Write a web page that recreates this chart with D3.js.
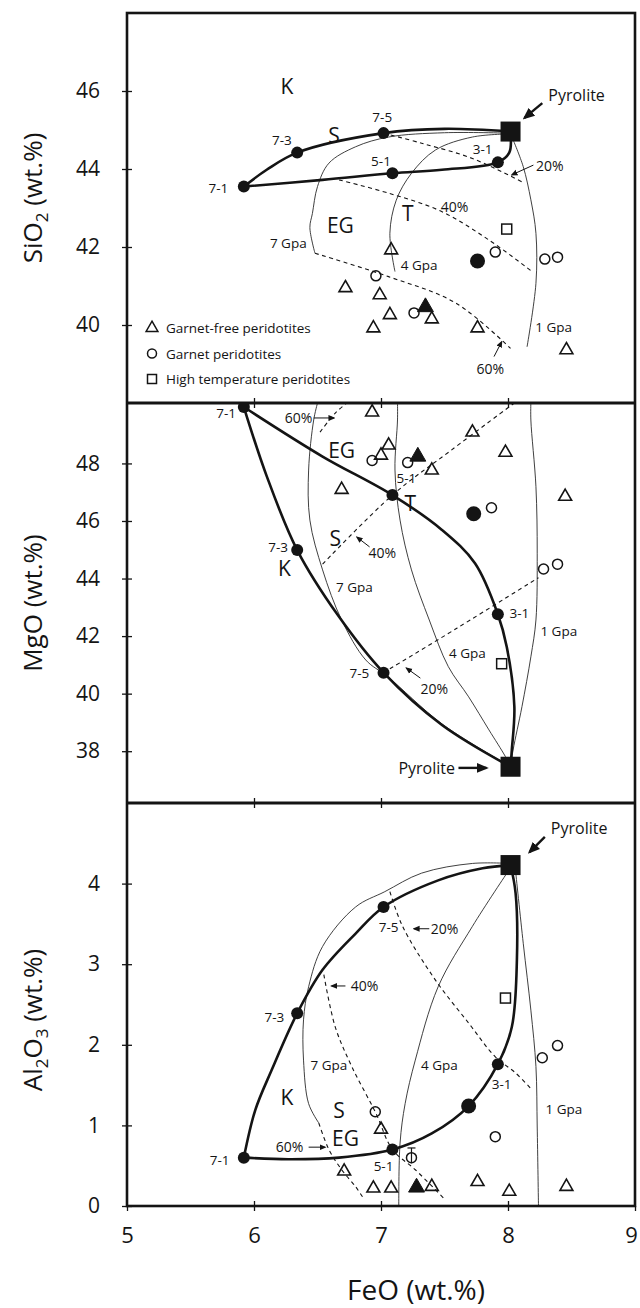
<!DOCTYPE html>
<html>
<head>
<meta charset="utf-8">
<title>FeO versus SiO2, MgO and Al2O3 of peridotites and melting residues</title>
<script src="https://cdn.jsdelivr.net/npm/d3@7"></script>
<style>
  html, body { margin: 0; padding: 0; background: #fff; }
  svg { display: block; }
  text { font-family: "Open Sans", "Noto Sans", "DejaVu Sans", sans-serif; fill: #141414; }
</style>
</head>
<body>
<svg id="chart" width="640" height="1308"></svg>
<script>
// ---------------- data (all values in wt.%) ----------------
const feoDomain = [5, 9];
const feoTicks = [5, 6, 7, 8, 9];

const sio2Domain = [38, 48];
const sio2Ticks = [40, 42, 44, 46];
const mgoDomain = [36.2, 50.1];
const mgoTicks = [38, 40, 42, 44, 46, 48];
const al2o3Domain = [0, 5];
const al2o3Ticks = [0, 1, 2, 3, 4];

// Pyrolite source: FeO, SiO2, MgO, Al2O3
const pyrolite = [8.02, 44.96, 37.46, 4.23];

// Residues of polybaric melting (start-end pressure in GPa)
const residueLabels = ["7-1", "7-3", "7-5", "5-1", "3-1"];
const residueFeO   = [5.92, 6.34, 7.02, 7.09, 7.92];
const residueSiO2  = [43.55, 44.42, 44.92, 43.89, 44.17];
const residueMgO   = [49.96, 44.99, 40.73, 46.90, 42.76];
const residueAl2O3 = [0.60, 2.39, 3.71, 0.70, 1.76];

// ---- SiO2 panel ----
const sio2GarnetFree = [[7.08,41.92],[6.72,40.95],[6.99,40.77],[7.07,40.26],[7.40,40.15],[6.94,39.92],[7.76,39.92],[8.46,39.36]];
const sio2GarnetFreeAvg = [[7.35,40.46]];
const sio2Garnet = [[7.90,41.87],[8.29,41.69],[8.39,41.74],[6.96,41.26],[7.26,40.31]];
const sio2HighT = [[7.99,42.46]];
const sio2GarnetAvg = [[7.76,41.64]];
const sio2Path7 = [[5.92,43.55],[6.10,43.98],[6.34,44.42],[7.02,44.92],[7.50,45.03],[8.02,44.96]];
const sio2PathTo1 = [[5.92,43.55],[6.54,43.72],[7.09,43.89],[7.48,43.98],[7.92,44.17],[8.01,44.42],[8.02,44.90]];
const sio2Isobar7 = [[8.00,44.92],[7.50,44.93],[7.06,44.82],[6.80,44.57],[6.59,44.15],[6.50,43.55],[6.46,42.86],[6.44,42.50],[6.48,41.84]];
const sio2Isobar4 = [[8.00,44.90],[7.72,44.82],[7.43,44.49],[7.24,43.89],[7.12,43.20],[7.07,42.35],[7.11,41.37]];
const sio2Isobar1 = [[8.04,44.75],[8.12,44.06],[8.18,43.21],[8.22,42.35],[8.22,41.07],[8.15,39.44]];
const sio2Melt20 = [[7.02,44.92],[7.32,44.66],[7.72,44.27],[8.11,43.67]];
const sio2Melt40 = [[6.67,43.72],[7.06,43.38],[7.47,42.92],[7.85,42.18],[8.19,41.37]];
const sio2Melt60 = [[6.48,41.84],[7.06,41.24],[7.59,40.56],[8.02,39.40]];
const sio2Labels = [
  ["Pyrolite", 8.54, 45.90, "pyro"], ["7-5", 7.01, 45.33, "step"], ["7-3", 6.22, 44.74, "step"],
  ["7-1", 5.72, 43.52, "step"], ["5-1", 7.00, 44.21, "step"], ["3-1", 7.80, 44.51, "step"],
  ["S", 6.63, 44.87, "region"], ["K", 6.26, 46.13, "region"], ["T", 7.21, 42.87, "region"],
  ["EG", 6.68, 42.56, "region"], ["7 Gpa", 6.27, 42.09, "gpa"], ["4 Gpa", 7.30, 41.54, "gpa"],
  ["1 Gpa", 8.36, 39.96, "gpa"], ["20%", 8.33, 44.10, "pct"], ["40%", 7.58, 43.03, "pct"],
  ["60%", 7.86, 38.89, "pct"]
];
const sio2Arrows = [[8.27,45.69,8.13,45.31,"big"],[8.20,44.10,8.03,43.85,"small"],[7.89,39.19,7.95,39.57,"small"]];

// ---- MgO panel ----
const mgoGarnetFree = [[7.72,49.08],[7.06,48.63],[7.00,48.28],[7.40,47.76],[7.98,48.38],[6.69,47.09],[8.45,46.85],[6.93,49.78]];
const mgoGarnetFreeAvg = [[7.29,48.24]];
const mgoGarnet = [[6.93,48.10],[7.21,48.03],[7.87,46.46],[8.28,44.33],[8.39,44.50]];
const mgoHighT = [[7.95,41.04]];
const mgoGarnetAvg = [[7.73,46.25]];
const mgoPath7 = [[5.92,49.96],[6.10,47.56],[6.34,44.99],[6.66,42.73],[7.02,40.73],[7.48,38.91],[8.02,37.46]];
const mgoPathTo1 = [[5.92,49.96],[6.54,48.24],[7.09,46.90],[7.48,45.69],[7.74,44.53],[7.92,42.76],[7.99,41.63],[8.05,39.55],[8.03,38.04],[8.02,37.46]];
const mgoIsobar7 = [[6.50,50.10],[6.47,49.51],[6.43,47.77],[6.44,46.03],[6.54,44.30],[6.69,42.56],[6.88,41.17],[7.05,40.60],[7.48,38.95],[7.96,37.62]];
const mgoIsobar4 = [[7.13,50.10],[7.13,49.51],[7.11,47.77],[7.15,46.03],[7.24,44.30],[7.38,42.56],[7.53,40.94],[7.69,39.89],[7.85,38.74],[7.98,37.81],[8.02,37.46]];
const mgoIsobar1 = [[8.18,50.10],[8.18,49.51],[8.22,47.19],[8.23,44.88],[8.22,42.56],[8.18,41.28],[8.11,39.55],[8.04,38.04],[8.02,37.46]];
const mgoMelt20 = [[7.02,40.73],[7.60,42.28],[8.24,44.03]];
const mgoMelt40 = [[6.54,44.50],[7.09,46.90],[7.55,48.45],[8.05,50.10]];
const mgoMelt60 = [[6.52,49.09],[6.64,49.75],[6.73,50.10]];
const mgoLabels = [
  ["7-1", 5.78, 49.75, "step"], ["60%", 6.35, 49.61, "pct"], ["EG", 6.69, 48.47, "region"],
  ["T", 7.23, 46.62, "region"], ["S", 6.64, 45.41, "region"], ["K", 6.24, 44.35, "region"],
  ["5-1", 7.20, 47.48, "step"], ["7-3", 6.19, 45.10, "step"], ["3-1", 8.09, 42.80, "step"],
  ["7-5", 6.83, 40.72, "step"], ["40%", 7.01, 44.89, "pct"], ["7 Gpa", 6.79, 43.71, "gpa"],
  ["4 Gpa", 7.68, 41.41, "gpa"], ["1 Gpa", 8.40, 42.18, "gpa"], ["20%", 7.42, 40.19, "pct"],
  ["Pyrolite", 7.36, 37.42, "pyro"]
];
const mgoArrows = [[6.47,49.58,6.63,49.58,"small"],[6.91,45.10,6.81,45.44,"small"],[7.31,40.54,7.20,40.89,"small"],[7.61,37.42,7.83,37.42,"big"]];

// ---- Al2O3 panel ----
const alGarnetFree = [[7.00,0.95],[6.71,0.43],[6.94,0.22],[7.08,0.22],[7.40,0.24],[7.76,0.30],[8.01,0.18],[8.46,0.24]];
const alGarnetFreeAvg = [[7.28,0.23]];
const alGarnet = [[6.955,1.17],[7.24,0.60],[7.90,0.86],[8.27,1.84],[8.39,1.99]];
const alGarnetRange = [[7.24,0.53,0.72]];
const alHighT = [[7.98,2.58]];
const alGarnetAvg = [[7.69,1.24]];
const alPath7 = [[5.92,0.60],[6.01,1.19],[6.14,1.69],[6.34,2.39],[6.54,2.93],[6.80,3.38],[7.02,3.71],[7.45,4.04],[7.80,4.19],[8.02,4.23]];
const alPathTo1 = [[5.92,0.60],[6.27,0.58],[6.67,0.60],[7.09,0.70],[7.40,0.90],[7.69,1.24],[7.92,1.76],[8.03,2.22],[8.07,3.05],[8.06,3.88],[8.02,4.23]];
const alIsobar7 = [[8.02,4.25],[7.72,4.25],[7.32,4.13],[7.03,3.90],[6.80,3.71],[6.54,3.22],[6.43,2.72],[6.39,2.31],[6.39,1.81],[6.43,1.27],[6.51,1.03]];
const alIsobar4 = [[8.00,4.15],[7.72,3.47],[7.45,2.72],[7.27,1.81],[7.19,1.27],[7.15,0.78],[7.14,0.00]];
const alIsobar1 = [[8.06,4.15],[8.12,3.26],[8.18,2.43],[8.22,1.73],[8.23,0.98],[8.24,0.00]];
const alMelt20 = [[7.07,3.90],[7.17,3.47],[7.43,2.80],[7.69,2.27],[7.90,1.85],[8.06,1.65],[8.19,1.44]];
const alMelt40 = [[6.55,2.87],[6.64,2.22],[6.77,1.73],[6.96,1.15],[7.09,0.70],[7.27,0.45],[7.51,0.07]];
const alMelt60 = [[6.51,1.03],[6.59,0.70],[6.69,0.45],[6.80,0.24],[6.86,0.10]];
const alLabels = [
  ["Pyrolite", 8.56, 4.69, "pyro"], ["7-5", 7.06, 3.46, "step"], ["20%", 7.50, 3.44, "pct"],
  ["40%", 6.87, 2.73, "pct"], ["7-3", 6.16, 2.34, "step"], ["7 Gpa", 6.59, 1.75, "gpa"],
  ["4 Gpa", 7.46, 1.75, "gpa"], ["3-1", 7.95, 1.51, "step"], ["1 Gpa", 8.44, 1.20, "gpa"],
  ["K", 6.26, 1.35, "region"], ["S", 6.67, 1.19, "region"], ["EG", 6.72, 0.84, "region"],
  ["60%", 6.28, 0.74, "pct"], ["7-1", 5.73, 0.57, "step"], ["5-1", 7.02, 0.50, "step"]
];
const alArrows = [[8.29,4.58,8.17,4.39,"big"],[7.38,3.44,7.26,3.44,"small"],[6.72,2.73,6.61,2.73,"small"],[6.43,0.73,6.56,0.73,"small"]];

const legendItems = ["Garnet-free peridotites", "Garnet peridotites", "High temperature peridotites"];

// ---------------- drawing ----------------
const ink = "#141414";
const svg = d3.select("#chart");
const plotLeft = 127, plotRight = 635;
const bands = [[13, 403], [403, 803], [803, 1206]];
const titleCenters = [198, 603, 1020];
const labelSize = { region: 21, step: 13.5, gpa: 13.5, pct: 14, pyro: 16 };

const x = d3.scaleLinear().domain(feoDomain).range([plotLeft, plotRight]);

const defs = svg.append("defs");
function addHead(id, size) {
  defs.append("marker").attr("id", id)
    .attr("viewBox", "0 0 10 10").attr("refX", 8).attr("refY", 5)
    .attr("markerWidth", size).attr("markerHeight", size)
    .attr("markerUnits", "userSpaceOnUse").attr("orient", "auto")
    .append("path").attr("d", "M0,0.8 L10,5 L0,9.2 Z").attr("fill", ink);
}
addHead("head-small", 7);
addHead("head-big", 12);

const panels = [
  { key: "sio2", band: bands[0], domain: sio2Domain, ticks: sio2Ticks, resid: residueSiO2, pyro: pyrolite[1],
    garnetFree: sio2GarnetFree, garnetFreeAvg: sio2GarnetFreeAvg, garnet: sio2Garnet, highT: sio2HighT, garnetAvg: sio2GarnetAvg,
    paths: [sio2Path7, sio2PathTo1], isobars: [sio2Isobar7, sio2Isobar4, sio2Isobar1], melts: [sio2Melt20, sio2Melt40, sio2Melt60],
    labels: sio2Labels, arrows: sio2Arrows, ranges: [],
    title: [["SiO", 0], ["2", 1], [" (wt.%)", 0]] },
  { key: "mgo", band: bands[1], domain: mgoDomain, ticks: mgoTicks, resid: residueMgO, pyro: pyrolite[2],
    garnetFree: mgoGarnetFree, garnetFreeAvg: mgoGarnetFreeAvg, garnet: mgoGarnet, highT: mgoHighT, garnetAvg: mgoGarnetAvg,
    paths: [mgoPath7, mgoPathTo1], isobars: [mgoIsobar7, mgoIsobar4, mgoIsobar1], melts: [mgoMelt20, mgoMelt40, mgoMelt60],
    labels: mgoLabels, arrows: mgoArrows, ranges: [],
    title: [["MgO (wt.%)", 0]] },
  { key: "al2o3", band: bands[2], domain: al2o3Domain, ticks: al2o3Ticks, resid: residueAl2O3, pyro: pyrolite[3],
    garnetFree: alGarnetFree, garnetFreeAvg: alGarnetFreeAvg, garnet: alGarnet, highT: alHighT, garnetAvg: alGarnetAvg,
    paths: [alPath7, alPathTo1], isobars: [alIsobar7, alIsobar4, alIsobar1], melts: [alMelt20, alMelt40, alMelt60],
    labels: alLabels, arrows: alArrows, ranges: alGarnetRange,
    title: [["Al", 0], ["2", 1], ["O", 0], ["3", 1], [" (wt.%)", 0]] }
];

const triangle = d3.symbol().type(d3.symbolTriangle);

panels.forEach((p, i) => {
  const [top, bottom] = p.band;
  const y = d3.scaleLinear().domain(p.domain).range([bottom, top]);
  const g = svg.append("g").attr("class", "panel-" + p.key);

  defs.append("clipPath").attr("id", "clip-" + p.key)
    .append("rect").attr("x", plotLeft).attr("y", top).attr("width", plotRight - plotLeft).attr("height", bottom - top);
  const plot = g.append("g").attr("clip-path", `url(#clip-${p.key})`);

  const smooth = d3.line().x(d => x(d[0])).y(d => y(d[1])).curve(d3.curveCatmullRom.alpha(0.5));

  // isobaric melting trends (thin)
  plot.selectAll(null).data(p.isobars).join("path")
    .attr("d", smooth).attr("fill", "none").attr("stroke", "#2a2a2a").attr("stroke-width", 0.9);

  // melt fraction contours (dashed)
  plot.selectAll(null).data(p.melts).join("path")
    .attr("d", smooth).attr("fill", "none").attr("stroke", ink).attr("stroke-width", 1.1)
    .attr("stroke-dasharray", "4,3.5");

  // polybaric melting paths (thick)
  plot.selectAll(null).data(p.paths).join("path")
    .attr("d", smooth).attr("fill", "none").attr("stroke", ink).attr("stroke-width", 2.6)
    .attr("stroke-linecap", "round");

  // error bar on one garnet peridotite
  p.ranges.forEach(r => {
    plot.append("line").attr("x1", x(r[0])).attr("x2", x(r[0])).attr("y1", y(r[1])).attr("y2", y(r[2]))
      .attr("stroke", ink).attr("stroke-width", 1.2);
    plot.append("line").attr("x1", x(r[0]) - 4).attr("x2", x(r[0]) + 4).attr("y1", y(r[2])).attr("y2", y(r[2]))
      .attr("stroke", ink).attr("stroke-width", 1.2);
  });

  // samples
  plot.selectAll(null).data(p.garnetFree).join("path")
    .attr("transform", d => `translate(${x(d[0])},${y(d[1])})`)
    .attr("d", triangle.size(72)).attr("fill", "none").attr("stroke", ink).attr("stroke-width", 1.6);
  plot.selectAll(null).data(p.garnetFreeAvg).join("path")
    .attr("transform", d => `translate(${x(d[0])},${y(d[1])})`)
    .attr("d", triangle.size(110)).attr("fill", ink).attr("stroke", ink).attr("stroke-width", 1);
  plot.selectAll(null).data(p.garnet).join("circle")
    .attr("cx", d => x(d[0])).attr("cy", d => y(d[1])).attr("r", 5)
    .attr("fill", "none").attr("stroke", ink).attr("stroke-width", 1.5);
  plot.selectAll(null).data(p.highT).join("rect")
    .attr("x", d => x(d[0]) - 5).attr("y", d => y(d[1]) - 5).attr("width", 10).attr("height", 10)
    .attr("fill", "none").attr("stroke", ink).attr("stroke-width", 1.5);
  plot.selectAll(null).data(p.garnetAvg).join("circle")
    .attr("cx", d => x(d[0])).attr("cy", d => y(d[1])).attr("r", 7.5).attr("fill", ink);

  // residue compositions
  plot.selectAll(null).data(residueFeO.map((f, k) => [f, p.resid[k]])).join("circle")
    .attr("cx", d => x(d[0])).attr("cy", d => y(d[1])).attr("r", 6).attr("fill", ink);

  // pyrolite
  plot.append("rect")
    .attr("x", x(pyrolite[0]) - 10).attr("y", y(p.pyro) - 10).attr("width", 20).attr("height", 20)
    .attr("fill", ink);

  // annotations
  g.selectAll(null).data(p.labels).join("text")
    .attr("x", d => x(d[1])).attr("y", d => y(d[2]))
    .attr("text-anchor", "middle").attr("dominant-baseline", "central")
    .attr("font-size", d => labelSize[d[3]])
    .text(d => d[0]);

  g.selectAll(null).data(p.arrows).join("line")
    .attr("x1", d => x(d[0])).attr("y1", d => y(d[1]))
    .attr("x2", d => x(d[2])).attr("y2", d => y(d[3]))
    .attr("stroke", ink).attr("stroke-width", d => d[4] === "big" ? 2.4 : 1)
    .attr("marker-end", d => d[4] === "big" ? "url(#head-big)" : "url(#head-small)");

  // left axis: outer ticks with labels, inner ticks without
  const left = g.append("g").attr("transform", `translate(${plotLeft},0)`);
  left.call(d3.axisLeft(y).tickValues(p.ticks).tickSize(5).tickPadding(22).tickFormat(d3.format("d")));
  left.append("g").call(d3.axisRight(y).tickValues(p.ticks).tickSize(5).tickFormat(""));
  left.selectAll(".domain").remove();
  left.selectAll("line").attr("stroke", ink).attr("stroke-width", 1.3);
  left.selectAll("text").attr("font-size", 21).attr("fill", ink)
    .style("font-family", '"Open Sans", "Noto Sans", sans-serif');

  // y title
  const title = svg.append("text")
    .attr("transform", `translate(42,${titleCenters[i]}) rotate(-90)`)
    .attr("text-anchor", "middle").attr("font-size", 26);
  p.title.forEach(([t, sub], k) => {
    const prevSub = k > 0 && p.title[k - 1][1];
    const ts = title.append("tspan").text(t);
    if (sub) ts.attr("font-size", 17).attr("dy", 6);
    else if (prevSub) ts.attr("dy", -6);
  });

  // bottom border ticks of each panel
  const edge = g.append("g").attr("transform", `translate(0,${bottom})`);
  const isLast = i === panels.length - 1;
  edge.call(d3.axisBottom(x).tickValues(isLast ? feoTicks : feoTicks.slice(1, -1))
    .tickSize(5).tickPadding(16).tickFormat(isLast ? d3.format("d") : ""));
  edge.append("g").call(d3.axisTop(x).tickValues(feoTicks.slice(1, -1)).tickSize(5).tickFormat(""));
  edge.selectAll(".domain").remove();
  edge.selectAll("line").attr("stroke", ink).attr("stroke-width", 1.3);
  edge.selectAll("text").attr("font-size", 22).attr("fill", ink)
    .style("font-family", '"Open Sans", "Noto Sans", sans-serif');
  // keep the last tick label inside the page
  edge.selectAll(".tick text").filter(d => d === feoDomain[1]).attr("dx", -4);
});

// frame and panel separators
svg.append("rect").attr("x", plotLeft).attr("y", bands[0][0])
  .attr("width", plotRight - plotLeft).attr("height", bands[2][1] - bands[0][0])
  .attr("fill", "none").attr("stroke", ink).attr("stroke-width", 2.6);
[bands[0][1], bands[1][1]].forEach(yy => {
  svg.append("line").attr("x1", plotLeft).attr("x2", plotRight).attr("y1", yy).attr("y2", yy)
    .attr("stroke", ink).attr("stroke-width", 3);
});

// x title
svg.append("text").attr("x", 416).attr("y", 1300).attr("text-anchor", "middle")
  .attr("font-size", 28).text("FeO (wt.%)");

// legend in the SiO2 panel
const legend = svg.append("g").attr("transform", "translate(152,328)");
legendItems.forEach((name, k) => {
  const row = legend.append("g").attr("transform", `translate(0,${k * 25.5})`);
  if (k === 0) row.append("path").attr("d", triangle.size(60)).attr("fill", "none").attr("stroke", ink).attr("stroke-width", 1.5);
  if (k === 1) row.append("circle").attr("r", 4.5).attr("fill", "none").attr("stroke", ink).attr("stroke-width", 1.5);
  if (k === 2) row.append("rect").attr("x", -4.5).attr("y", -4.5).attr("width", 9).attr("height", 9)
    .attr("fill", "none").attr("stroke", ink).attr("stroke-width", 1.5);
  row.append("text").attr("x", 14).attr("dominant-baseline", "central").attr("font-size", 13.5).text(name);
});
</script>
</body>
</html>
